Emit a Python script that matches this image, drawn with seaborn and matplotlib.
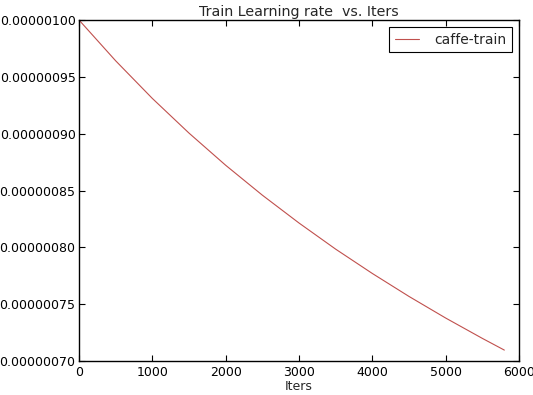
import matplotlib
matplotlib.use("Agg")
import matplotlib.pyplot as plt
import seaborn as sns
import pandas as pd
from matplotlib.ticker import FormatStrFormatter

iters = [0, 500, 1000, 1500, 2000, 2500, 3000, 3500, 4000, 4500, 5000, 5500, 5800]
lr = [1.0000e-6, 0.9641e-6, 0.9310e-6, 0.9005e-6, 0.8722e-6, 0.8459e-6, 0.8214e-6,
      0.7984e-6, 0.7770e-6, 0.7568e-6, 0.7378e-6, 0.7199e-6, 0.7096e-6]
series = "caffe-train"

sns.set_style("ticks")
plt.rcParams['font.family'] = ['DejaVu Sans']

df = pd.DataFrame({"Iters": iters, "lr": lr, "series": series})

fig = plt.figure(figsize=(5.33, 3.95), dpi=100)
ax = fig.add_axes([79/533, (395-361)/395, 440/533, 341/395])
sns.lineplot(data=df, x="Iters", y="lr", hue="series", palette=["#c0504d"],
             linewidth=0.8, ax=ax)

ax.set_xlim(0, 6000)
ax.set_ylim(0.0000007, 0.0000010)
ax.set_xticks([0, 1000, 2000, 3000, 4000, 5000, 6000])
ax.set_yticks([0.00000070, 0.00000075, 0.00000080, 0.00000085, 0.00000090, 0.00000095, 0.00000100])
ax.yaxis.set_major_formatter(FormatStrFormatter('%.8f'))
ax.tick_params(direction='in', top=True, right=True, labelsize=9, length=4, width=0.8, colors='black')
ax.tick_params(axis='y', pad=2.5)
ax.tick_params(axis='x', pad=3.5)
for s in ax.spines.values():
    s.set_visible(True)
    s.set_color('black')
    s.set_linewidth(1.0)
ax.set_xlabel("Iters", fontsize=9, labelpad=1)
ax.set_ylabel("")
ax.set_title("Train Learning rate  vs. Iters", fontsize=10.3, pad=3)
leg = ax.legend(loc="upper right", fontsize=10, fancybox=False, framealpha=1,
                edgecolor='black', handlelength=1.75, handletextpad=1.1)
leg.get_frame().set_linewidth(0.8)

fig.savefig("out.png", dpi=100, facecolor='white')
